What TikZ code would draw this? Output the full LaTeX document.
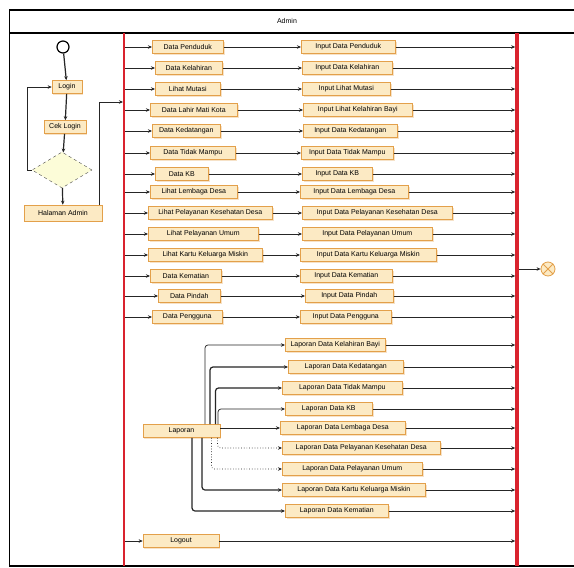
\documentclass[tikz,border=0pt]{standalone}
\usepackage{fontspec}
\setmainfont{Liberation Sans}
\usetikzlibrary{arrows.meta,shapes.geometric,shadows}
\definecolor{boxfill}{HTML}{FCEAC4}
\definecolor{boxdraw}{HTML}{E3A04A}
\definecolor{barred}{HTML}{D9232E}
\definecolor{diafill}{HTML}{FCFCD8}
\tikzset{
  box/.style={draw=boxdraw, fill=boxfill, line width=0.6pt, minimum height=13pt,
    inner sep=1pt, font=\fontsize{7}{8}\selectfont, anchor=west,
    drop shadow={fill=boxdraw, opacity=0.3, shadow xshift=1.2pt, shadow yshift=-1.4pt}},
  conn/.style={draw=black!85, line width=0.7pt, -{Stealth[length=4pt,width=3.5pt]}},
  thickconn/.style={conn, line width=1.2pt},
  bar/.style={fill=barred, draw=none, inner sep=0pt, minimum height=533pt},
  frame/.style={line width=1.6pt, black}
}
\begin{document}
\begin{tikzpicture}[x=1pt,y=-1pt]
\useasboundingbox (0,0) rectangle (574,568);
\fill[white] (0,0) rectangle (574,568);
% swimlane frame
\draw[frame] (9,10) -- (574,10);
\draw[frame] (9,33) -- (574,33);
\draw[line width=1pt] (9,10) -- (9,566);
\draw[frame] (9,566) -- (574,566);
\node[font=\fontsize{7}{8}\selectfont] (title) at (287,21) {Admin};

% fork / join bars
\node[bar, minimum width=1.6pt] (fork) at (124,299.5) {};
\node[bar, minimum width=3.2pt] (join) at (517,299.5) {};

% login flow
\node[circle, draw, fill=white, line width=1.2pt, minimum size=12pt, inner sep=0pt] (start) at (63,47) {};
\node[box, anchor=center, minimum width=30pt] (login) at (67,87) {Login};
\node[box, anchor=center, minimum width=42pt] (cek) at (65,127) {Cek Login};
\node[diamond, draw=black!70, dashed, fill=diafill, minimum width=60pt, minimum height=36pt, inner sep=0pt] (dec) at (62,170) {};
\node[box, anchor=center, minimum width=78pt, minimum height=16pt] (home) at (63,213) {Halaman Admin};
\coordinate (forkin) at (124,102);

\draw[thickconn] (start) -- (login);
\draw[thickconn] (login) -- (cek);
\draw[thickconn] (cek) -- (dec);
\draw[thickconn] (dec) -- (home);
\draw[conn] (dec.west) -- ++(-4,0) |- (login.west);
\draw[conn] ([xshift=-3pt]home.north east) |- (fork.west |- forkin);

% data rows
\foreach \i/\y/\lx/\lw/\lt/\rx/\rw/\rt in {
 1/47/152/71/Data Penduduk/301/94/Input Data Penduduk,
 2/68/155/67/Data Kelahiran/302/90/Input Data Kelahiran,
 3/89/155/65/Lihat Mutasi/302/88/Input Lihat Mutasi,
 4/110/150/87/Data Lahir Mati Kota/303/109/Input Lihat Kelahiran Bayi,
 5/131/152/68/Data Kedatangan/303/94/Input Data Kedatangan,
 6/153/150/85/Data Tidak Mampu/301/92/Input Data Tidak Mampu,
 7/174/155/53/Data KB/302/70/Input Data KB,
 8/192/150/87/Lihat Lembaga Desa/300/108/Input Data Lembaga Desa,
 9/213/148/124/Lihat Pelayanan Kesehatan Desa/302/150/Input Data Pelayanan Kesehatan Desa,
 10/234/148/110/Lihat Pelayanan Umum/302/130/Input Data Pelayanan Umum,
 11/255/148/114/Lihat Kartu Keluarga Miskin/300/136/Input Data Kartu Keluarga Miskin,
 12/276/150/71/Data Kematian/300/92/Input Data Kematian,
 13/296/158/62/Data Pindah/305/88/Input Data Pindah,
 14/317/152/70/Data Pengguna/300/91/Input Data Pengguna}
{
  \node[box, minimum width=\lw pt] (l\i) at (\lx,\y) {\lt};
  \node[box, minimum width=\rw pt] (r\i) at (\rx,\y) {\rt};
  \draw[conn] (fork.east |- l\i.west) -- (l\i.west);
  \draw[conn] (l\i.east) -- (r\i.west);
  \draw[conn] (r\i.east) -- (join.west |- r\i.east);
}

% laporan
\node[box, anchor=center, minimum width=77pt] (lap) at (181.5,431) {Laporan};
\foreach \j/\y/\x/\w/\t in {
 1/345/285/100/Laporan Data Kelahiran Bayi,
 2/367/288/115/Laporan Data Kedatangan,
 3/388/282/120/Laporan Data Tidak Mampu,
 4/409/285/87/Laporan Data KB,
 5/428/280/125/Laporan Data Lembaga Desa,
 6/448/282/158/Laporan Data Pelayanan Kesehatan Desa,
 7/469/282/140/Laporan Data Pelayanan Umum,
 8/490/282/143/Laporan Data Kartu Keluarga Miskin,
 9/511/285/103/Laporan Data Kematian}
{
  \node[box, minimum width=\w pt] (p\j) at (\x,\y) {\t};
  \draw[conn] (p\j.east) -- (join.west |- p\j.east);
}
\draw[conn, rounded corners=3pt] ([xshift=23.5pt]lap.north) |- (p1.west);
\draw[thickconn, rounded corners=3pt] ([xshift=28.5pt]lap.north) |- (p2.west);
\draw[thickconn, rounded corners=3pt] ([xshift=34pt]lap.north) |- (p3.west);
\draw[conn, rounded corners=3pt] ([xshift=36.5pt]lap.north) |- (p4.west);
\draw[conn] (lap.east |- p5.west) -- (p5.west);
\draw[conn, dotted, rounded corners=3pt] ([xshift=36pt]lap.south) |- (p6.west);
\draw[conn, dotted, rounded corners=3pt] ([xshift=30pt]lap.south) |- (p7.west);
\draw[thickconn, rounded corners=3pt] ([xshift=20.5pt]lap.south) |- (p8.west);
\draw[thickconn, rounded corners=3pt] ([xshift=10.5pt]lap.south) |- (p9.west);

% logout
\node[box, anchor=center, minimum width=76pt] (logout) at (181,541) {Logout};
\draw[conn] (fork.east |- logout.west) -- (logout.west);
\draw[conn] (logout.east) -- (join.west |- logout.east);

% final node
\node[circle, draw=boxdraw, fill=boxfill, line width=0.8pt, minimum size=14pt, inner sep=0pt] (final) at (548,269) {};
\draw[boxdraw, line width=0.8pt] (final.north west) -- (final.south east);
\draw[boxdraw, line width=0.8pt] (final.north east) -- (final.south west);
\draw[conn] (join.east |- final.west) -- (final.west);
\end{tikzpicture}
\end{document}
